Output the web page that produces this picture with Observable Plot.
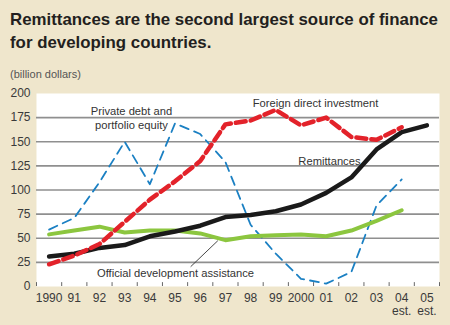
<!DOCTYPE html>
<html>
<head>
<meta charset="utf-8">
<script src="https://cdn.jsdelivr.net/npm/d3@7"></script>
<script src="https://cdn.jsdelivr.net/npm/@observablehq/plot@0.6"></script>
<style>
  html, body { margin: 0; padding: 0; }
  body { width: 450px; height: 325px; background: #efe6cc; overflow: hidden; }
  #wrap { position: relative; width: 450px; height: 325px; background: #efe6cc; }
  #title { position: absolute; left: 10px; top: 8px; font-family: "Liberation Sans", Arial, sans-serif; font-weight: bold; font-size: 17px; line-height: 23px; color: #231f20; white-space: nowrap; transform-origin: 0 0; }
  #unit { position: absolute; left: 10px; top: 67px; font-family: "Liberation Sans", Arial, sans-serif; font-size: 11px; line-height: 14px; color: #555; }
  #chart { position: absolute; left: 0; top: 84px; }
</style>
</head>
<body>
<div id="wrap">
  <div id="title">Remittances are the second largest source of finance<br>for developing countries.</div>
  <div id="unit">(billion dollars)</div>
  <div id="chart"></div>
</div>
<script>
const years = [1990, 1991, 1992, 1993, 1994, 1995, 1996, 1997, 1998, 1999, 2000, 2001, 2002, 2003, 2004, 2005];
const xLabels = ["1990", "91", "92", "93", "94", "95", "96", "97", "98", "99", "2000", "01", "02", "03", "04\nest.", "05\nest."];
const remittances = [31, 34, 40, 43, 52, 57, 63, 72, 74, 78, 85, 97, 113, 142, 160, 167];
const fdi = [23, 32, 44, 67, 90, 109, 130, 168, 172, 183, 167, 175, 155, 152, 165, null];
const privateDebt = [59, 71, 108, 150, 106, 169, 158, 129, 64, 34, 8, 3, 15, 84, 111, null];
const oda = [54, 58, 62, 56, 58, 58, 55, 48, 52, 53, 54, 52, 58, 68, 79, null];
const yTicks = [0, 25, 50, 75, 100, 125, 150, 175, 200];
const gridValues = [25, 50, 75, 100, 125, 150, 175];

// annotation labels (data units: year, billion dollars)
const labelText = ["Private debt and\nportfolio equity", "Foreign direct investment", "Remittances", "Official development assistance"];
const labelYear = [1993.27, 2000.58, 2001.13, 1995.02];
const labelValue = [175, 190.7, 130.6, 14.5];
const leader = [{x1: 1995.62, y1: 20.5, x2: 1996.7, y2: 47.5}];

const table = (vals) => years.map((year, i) => ({year, v: vals[i]}));
const boundaries = d3.range(1989.5, 2006, 1);
const labels = labelText.map((t, i) => ({t, x: labelYear[i], y: labelValue[i]}));

// condense the title horizontally to the reference's width
const title = document.getElementById("title");
const tw = title.getBoundingClientRect().width;
title.style.transform = `scaleX(${428 / tw})`;

const chart = Plot.plot({
  width: 450,
  height: 241,
  marginTop: 9,
  marginBottom: 39,
  marginLeft: 36,
  marginRight: 11,
  style: {background: "transparent", fontFamily: "'Liberation Sans', Arial, sans-serif", fontSize: "12px", color: "#3a3a3a"},
  x: {type: "linear", domain: [1989.5, 2005.5]},
  y: {domain: [0, 200]},
  marks: [
    Plot.frame({fill: "white", stroke: "none"}),
    Plot.ruleY(gridValues, {stroke: "#8f8f8f", strokeWidth: 1.6}),
    Plot.ruleX(boundaries, {y1: 0, y2: 4, stroke: "#666", strokeWidth: 1}),
    Plot.axisX(years, {tickSize: 0, tickPadding: 7, label: null, lineHeight: 1.05, tickFormat: d => xLabels[years.indexOf(d)]}),
    Plot.axisY(yTicks, {tickSize: 0, tickPadding: 6, label: null}),
    Plot.lineY(table(privateDebt), {x: "year", y: "v", stroke: "#1b80c3", strokeWidth: 1.8, strokeDasharray: "9,6"}),
    Plot.lineY(table(oda), {x: "year", y: "v", stroke: "#8cc63f", strokeWidth: 4}),
    Plot.lineY(table(remittances), {x: "year", y: "v", stroke: "#1a1a1a", strokeWidth: 4.5}),
    Plot.lineY(table(fdi), {x: "year", y: "v", stroke: "#e3222a", strokeWidth: 4.5, strokeDasharray: "10,5"}),
    Plot.link(leader, {x1: "x1", y1: "y1", x2: "x2", y2: "y2", stroke: "#333", strokeWidth: 0.9}),
    Plot.text(labels, {x: "x", y: "y", text: "t", fontFamily: "'Liberation Sans', Arial, sans-serif", fontSize: 11.2, lineHeight: 1.2, fill: "#333"})
  ]
});
document.getElementById("chart").appendChild(chart);
</script>
</body>
</html>
